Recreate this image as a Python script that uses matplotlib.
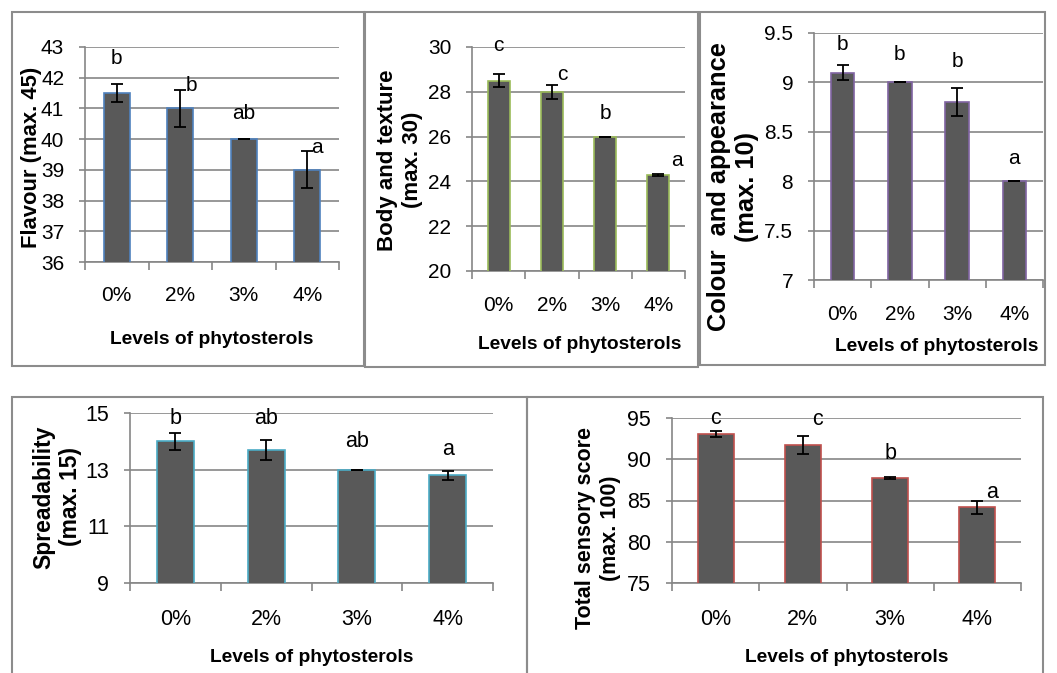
import matplotlib
matplotlib.use("Agg")
import matplotlib.pyplot as plt
from matplotlib.patches import Rectangle

plt.rcParams["font.family"] = ["Liberation Sans", "DejaVu Sans"]

levels = ["0%", "2%", "3%", "4%"]

flavour = [41.5, 41.0, 40.0, 39.0]
flavour_sd = [0.3, 0.6, 0.0, 0.6]
flavour_letters = ["b", "b", "ab", "a"]

body = [28.5, 28.0, 26.0, 24.3]
body_sd = [0.3, 0.3, 0.0, 0.05]
body_letters = ["c", "c", "b", "a"]

colour = [9.1, 9.0, 8.8, 8.0]
colour_sd = [0.08, 0.0, 0.14, 0.0]
colour_letters = ["b", "b", "b", "a"]

spread = [14.0, 13.7, 13.0, 12.8]
spread_sd = [0.3, 0.35, 0.0, 0.17]
spread_letters = ["b", "ab", "ab", "a"]

total = [93.1, 91.7, 87.7, 84.2]
total_sd = [0.35, 1.1, 0.15, 0.8]
total_letters = ["c", "c", "b", "a"]

W, H = 1057, 673
fig = plt.figure(figsize=(W / 100, H / 100), dpi=100)


def px_rect(x0, y0, x1, y1):
    return [x0 / W, 1 - y1 / H, (x1 - x0) / W, (y1 - y0) / H]


# panel frames (pixel boxes)
frames = [(12, 12, 364, 366), (365, 12, 698, 367), (700, 12, 1045, 365),
          (12, 397, 527, 690), (527, 397, 1043, 690)]
for x0, y0, x1, y1 in frames:
    fig.add_artist(Rectangle((x0 / W, 1 - y1 / H), (x1 - x0) / W, (y1 - y0) / H,
                             transform=fig.transFigure, fill=False,
                             edgecolor="#8c8c8c", linewidth=1.5))

panels = [
    dict(box=(85, 47, 339, 262), vals=flavour, sd=flavour_sd, letters=flavour_letters,
         ylim=(36, 43), yticks=range(36, 44), edge="#4F81BD",
         lab_x=[0, 0.18, 0, 0.15], lab_y=[42.62, 41.76, 40.85, 39.74],
         ylabel="Flavour (max. 45)", ylab_pos=(32, 157), ylab_fs=15.8,
         xlab_pos=(212, 340), fs=15, pad=17),
    dict(box=(472, 47, 685, 271), vals=body, sd=body_sd, letters=body_letters,
         ylim=(20, 30), yticks=range(20, 31, 2), edge="#9BBB59",
         lab_x=[0, 0.2, 0, 0.35], lab_y=[30.05, 28.75, 27.05, 24.95],
         ylabel="Body and texture\n(max. 30)", ylab_pos=(400, 160), ylab_fs=16,
         xlab_pos=(580, 345), fs=15, pad=18),
    dict(box=(814, 33, 1043, 280), vals=colour, sd=colour_sd, letters=colour_letters,
         ylim=(7, 9.5), yticks=[7, 7.5, 8, 8.5, 9, 9.5], edge="#8064A2",
         lab_x=[0, 0, 0, 0], lab_y=[9.38, 9.28, 9.21, 8.23],
         ylabel="Colour  and appearance\n(max. 10)", ylab_pos=(733, 187), ylab_fs=18.3,
         xlab_pos=(937, 347), fs=15, pad=18),
    dict(box=(130, 413, 493, 583), vals=spread, sd=spread_sd, letters=spread_letters,
         ylim=(9, 15), yticks=[9, 11, 13, 15], edge="#4BACC6",
         lab_x=[0, 0, 0, 0], lab_y=[14.82, 14.82, 13.98, 13.7],
         ylabel="Spreadability\n(max. 15)", ylab_pos=(57, 497), ylab_fs=16.5,
         xlab_pos=(312, 657), fs=15.5, pad=19),
    dict(box=(672, 418, 1021, 583), vals=total, sd=total_sd, letters=total_letters,
         ylim=(75, 95), yticks=range(75, 96, 5), edge="#C0504D",
         lab_x=[0, 0.17, 0, 0.17], lab_y=[95.0, 94.8, 90.75, 86.0],
         ylabel="Total sensory score\n(max. 100)", ylab_pos=(598, 528), ylab_fs=15.5,
         xlab_pos=(847, 657), fs=15.5, pad=19),
]

for p in panels:
    ax = fig.add_axes(px_rect(*p["box"]))
    x = range(len(levels))
    ax.bar(x, p["vals"], width=0.41, color="#595959", edgecolor=p["edge"],
           linewidth=1.2, zorder=3)
    ax.errorbar(x, p["vals"], yerr=p["sd"], fmt="none", ecolor="black",
                elinewidth=1.3, capsize=4, capthick=1.3, zorder=4)
    for i, (lt, dx, ly) in enumerate(zip(p["letters"], p["lab_x"], p["lab_y"])):
        ax.text(i + dx, ly, lt, ha="center", va="center", fontsize=p["fs"], zorder=5)

    ax.set_xlim(-0.5, len(levels) - 0.5)
    ax.set_ylim(*p["ylim"])
    ax.set_yticks(list(p["yticks"]))
    ax.set_yticklabels([f"{t:g}" for t in p["yticks"]], fontsize=p["fs"])
    ax.set_xticks([i - 0.5 for i in range(len(levels) + 1)])
    ax.set_xticklabels([])
    ax.set_xticks(list(x), minor=True)
    ax.set_xticklabels(levels, minor=True, fontsize=p["fs"])
    ax.tick_params(axis="x", which="major", length=6, color="#868686", width=1.2)
    ax.tick_params(axis="x", which="minor", length=0, pad=p["pad"])
    ax.tick_params(axis="y", length=4, color="#868686", width=1.2, pad=11)
    ax.grid(axis="y", color="#868686", linewidth=1.2, zorder=0)
    ax.set_axisbelow(True)
    for s in ["top", "right"]:
        ax.spines[s].set_visible(False)
    for s in ["left", "bottom"]:
        ax.spines[s].set_color("#868686")
        ax.spines[s].set_linewidth(1.2)

    fig.text(p["ylab_pos"][0] / W, 1 - p["ylab_pos"][1] / H, p["ylabel"],
             rotation=90, ha="center", va="center", multialignment="center",
             fontsize=p["ylab_fs"], fontweight="bold")
    fig.text(p["xlab_pos"][0] / W, 1 - p["xlab_pos"][1] / H, "Levels of phytosterols",
             ha="center", va="center", fontsize=13.8, fontweight="bold")

fig.savefig("out.png", dpi=100)
